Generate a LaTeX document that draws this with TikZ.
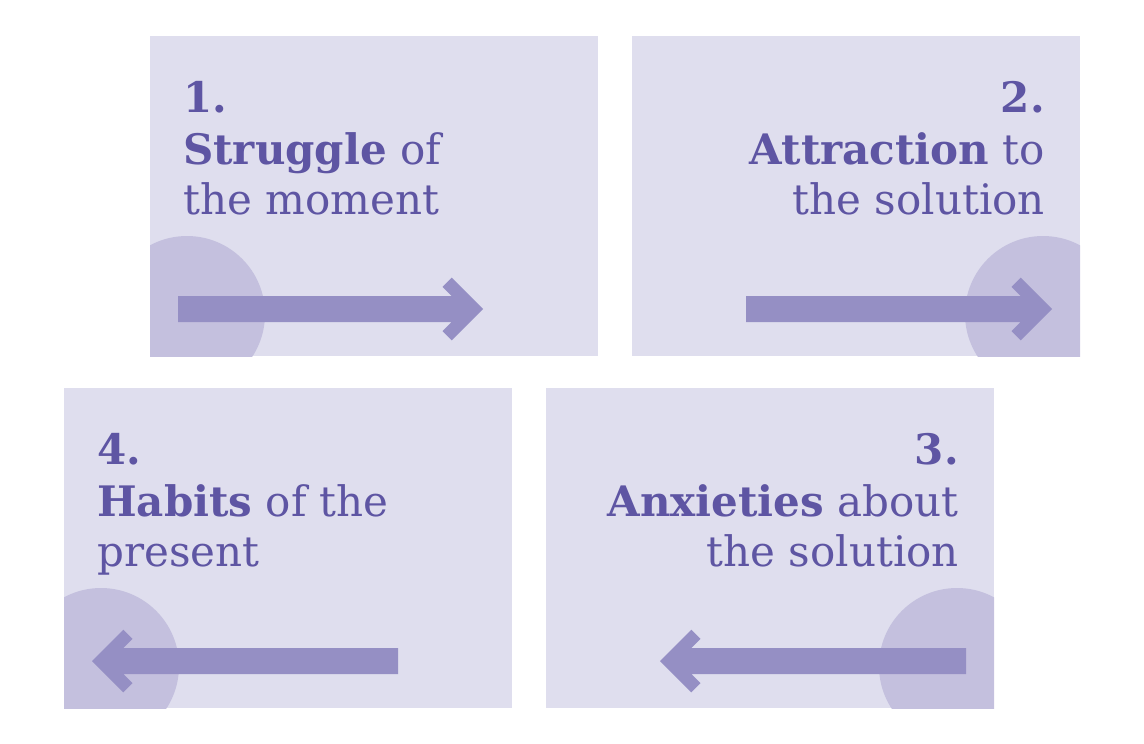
\documentclass[tikz,border=0pt]{standalone}
\usepackage{fontspec}
\setmainfont{DejaVu Serif}
\usepackage{tikz}
\usetikzlibrary{positioning}
\definecolor{panelbg}{RGB}{223,222,238}
\definecolor{blobfill}{RGB}{196,192,222}
\definecolor{arrowfill}{RGB}{149,143,196}
\definecolor{textpurple}{RGB}{94,85,163}

\begin{document}
\begin{tikzpicture}[x=1pt, y=-1pt,
  panel/.style={fill=panelbg},
  blob/.style={fill=blobfill},
  txt/.style={inner sep=0pt, text=textpurple, font=\fontsize{42}{50}\selectfont},
  pics/bigarrow/.style={code={
    \fill[arrowfill] (0,0) -- (-31.3,-31.3) -- (-40.5,-22.1) -- (-31.4,-13)
      -- (-#1,-13) -- (-#1,13) -- (-31.4,13) -- (-40.5,22.1) -- (-31.3,31.3) -- cycle;
  }}]

\useasboundingbox (0,0) rectangle (1144,744);

% Panel 1: struggle
\begin{scope}[shift={(150,36)}]
  \fill[panel] (0,0) rectangle (448,320);
  \begin{scope}
    \clip (0,0) rectangle (448,320);
    \fill[blob] (37,278) circle[radius=78pt];
  \end{scope}
  \pic at (333,273) {bigarrow=305};
  \node[txt, anchor=base west] (num1) at (33,76) {\bfseries 1.};
  \node[txt, anchor=base west] (head1) at (33,128) {\textbf{Struggle} of};
  \node[txt, anchor=base west] (tail1) at (33,178) {the moment};
\end{scope}

% Panel 2: attraction
\begin{scope}[shift={(632,36)}]
  \fill[panel] (0,0) rectangle (448,320);
  \begin{scope}
    \clip (0,0) rectangle (448,320);
    \fill[blob] (411,278) circle[radius=78pt];
  \end{scope}
  \pic at (420,273) {bigarrow=306};
  \node[txt, anchor=base east] (num2) at (413,76) {\bfseries 2.};
  \node[txt, anchor=base east] (head2) at (413,128) {\textbf{Attraction} to};
  \node[txt, anchor=base east] (tail2) at (413,178) {the solution};
\end{scope}

% Panel 3: anxieties
\begin{scope}[shift={(546,388)}]
  \fill[panel] (0,0) rectangle (448,320);
  \begin{scope}
    \clip (0,0) rectangle (448,320);
    \fill[blob] (411,278) circle[radius=78pt];
  \end{scope}
  \pic[xscale=-1] at (114,273) {bigarrow=306};
  \node[txt, anchor=base east] (num3) at (413,76) {\bfseries 3.};
  \node[txt, anchor=base east] (head3) at (413,128) {\textbf{Anxieties} about};
  \node[txt, anchor=base east] (tail3) at (413,178) {the solution};
\end{scope}

% Panel 4: habits
\begin{scope}[shift={(64,388)}]
  \fill[panel] (0,0) rectangle (448,320);
  \begin{scope}
    \clip (0,0) rectangle (448,320);
    \fill[blob] (37,278) circle[radius=78pt];
  \end{scope}
  \pic[xscale=-1] at (28,273) {bigarrow=306};
  \node[txt, anchor=base west] (num4) at (33,76) {\bfseries 4.};
  \node[txt, anchor=base west] (head4) at (33,128) {\textbf{Habits} of the};
  \node[txt, anchor=base west] (tail4) at (33,178) {present};
\end{scope}

\end{tikzpicture}
\end{document}
